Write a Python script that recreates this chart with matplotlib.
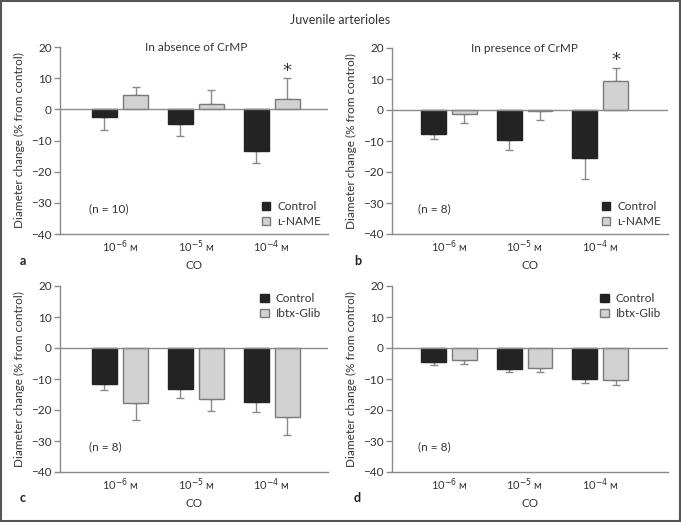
import matplotlib
matplotlib.use("Agg")
import matplotlib.pyplot as plt
from matplotlib.patches import Patch, Rectangle
import numpy as np

plt.rcParams['font.family'] = ['Lato', 'DejaVu Sans']
plt.rcParams['mathtext.fontset'] = 'dejavusans'

doses = [r"10$^{-6}$ ᴍ", r"10$^{-5}$ ᴍ", r"10$^{-4}$ ᴍ"]

# panel a: in absence of CrMP
a_ctrl = [-2.5, -4.6, -13.4]
a_ctrl_err = [4.1, 4.0, 3.7]
a_lname = [4.7, 1.6, 3.3]
a_lname_err = [2.6, 4.7, 6.6]

# panel b: in presence of CrMP
b_ctrl = [-7.8, -9.8, -15.4]
b_ctrl_err = [1.6, 3.1, 6.7]
b_lname = [-1.2, -0.4, 9.4]
b_lname_err = [3.1, 2.9, 4.3]

# panel c
c_ctrl = [-11.5, -13.3, -17.4]
c_ctrl_err = [1.9, 2.8, 3.3]
c_ibtx = [-17.6, -16.5, -22.1]
c_ibtx_err = [5.6, 3.8, 5.9]

# panel d
d_ctrl = [-4.4, -6.7, -10.0]
d_ctrl_err = [1.2, 1.0, 1.4]
d_ibtx = [-3.8, -6.4, -10.4]
d_ibtx_err = [1.5, 1.3, 1.6]

DARK = "#232323"
LIGHT = "#d2d2d2"
GREY = "#8a8a8a"


def draw_panel(ax, ctrl, ctrl_err, other, other_err, other_name, n_text,
               xlim, title=None, star=None, legend_loc="lower right"):
    x = np.arange(len(doses))
    off, w = 0.205, 0.33
    for vals, errs, xs, fc, ec in [(ctrl, ctrl_err, x - off, DARK, DARK),
                                   (other, other_err, x + off, LIGHT, "#7a7a7a")]:
        vals = np.asarray(vals)
        errs = np.asarray(errs)
        ax.bar(xs, vals, width=w, color=fc, edgecolor=ec, linewidth=1.0, zorder=3)
        lo = np.where(vals < 0, errs, 0)
        hi = np.where(vals >= 0, errs, 0)
        ax.errorbar(xs, vals, yerr=[lo, hi], fmt="none", ecolor=GREY,
                    elinewidth=1.0, capsize=3, capthick=1.0, zorder=2)
    ax.axhline(0, color=GREY, lw=1.0, zorder=4)
    ax.set_xlim(*xlim)
    ax.set_ylim(-40, 20)
    ax.set_yticks([-40, -30, -20, -10, 0, 10, 20])
    ax.set_xticks(x)
    ax.set_xticklabels(doses, fontsize=8, color="#333")
    ax.tick_params(axis="x", length=0, pad=3)
    ax.tick_params(axis="y", length=4, width=1, color=GREY, labelsize=8.5,
                   labelcolor="#333", pad=2)
    for s in ["top", "right"]:
        ax.spines[s].set_visible(False)
    for s in ["left", "bottom"]:
        ax.spines[s].set_color(GREY)
        ax.spines[s].set_linewidth(1.0)
    ax.set_ylabel("Diameter change (% from control)", fontsize=8.5, color="#333", labelpad=4)
    ax.set_xlabel("CO", fontsize=8.5, color="#333", labelpad=4)
    ax.text(-0.41, -32, n_text, fontsize=8.5, color="#333", va="center")
    if title:
        ax.text(1, 20, title, fontsize=8.5, color="#333", ha="center", va="center")
    if star is not None:
        ax.text(2 + 0.205, star, "*", fontsize=13, family="DejaVu Sans",
                color="#333", ha="center", va="center")
    handles = [Patch(facecolor=DARK, edgecolor=DARK, label="Control"),
               Patch(facecolor=LIGHT, edgecolor="#7a7a7a", label=other_name)]
    ax.legend(handles=handles, loc=legend_loc, frameon=False, fontsize=8.5,
              handlelength=0.7, handleheight=0.7, handletextpad=0.6,
              labelspacing=0.35, borderaxespad=0.2, labelcolor="#333")


fig = plt.figure(figsize=(6.81, 5.22), dpi=100)
fig.patches.append(Rectangle((0.001, 0.001), 0.997, 0.997, transform=fig.transFigure,
                             fill=False, edgecolor="#555", lw=1.5))
fig.text(0.5, 0.962, "Juvenile arterioles", ha="center", va="center", fontsize=9, color="#333")

ax_a = fig.add_axes([60 / 681, 288 / 522, 268 / 681, 187 / 522])
ax_b = fig.add_axes([392 / 681, 288 / 522, 276 / 681, 186 / 522])
ax_c = fig.add_axes([60 / 681, 50 / 522, 268 / 681, 186 / 522])
ax_d = fig.add_axes([392 / 681, 50 / 522, 276 / 681, 186 / 522])

draw_panel(ax_a, a_ctrl, a_ctrl_err, a_lname, a_lname_err, "ʟ-NAME", "(n = 10)",
           (-0.79, 2.74), title="In absence of CrMP", star=12.3)
draw_panel(ax_b, b_ctrl, b_ctrl_err, b_lname, b_lname_err, "ʟ-NAME", "(n = 8)",
           (-0.755, 2.9), title="In presence of CrMP", star=16.0)
draw_panel(ax_c, c_ctrl, c_ctrl_err, c_ibtx, c_ibtx_err, "Ibtx-Glib", "(n = 8)",
           (-0.79, 2.74), legend_loc="upper right")
draw_panel(ax_d, d_ctrl, d_ctrl_err, d_ibtx, d_ibtx_err, "Ibtx-Glib", "(n = 8)",
           (-0.755, 2.9), legend_loc="upper right")

# panel letters
for letter, px, py in [("a", 20, 261), ("b", 354, 261), ("c", 20, 498), ("d", 354, 498)]:
    fig.text(px / 681, 1 - py / 522, letter, fontsize=9, fontweight="bold",
             color="#222", va="center")

fig.savefig("out.png", dpi=100)
